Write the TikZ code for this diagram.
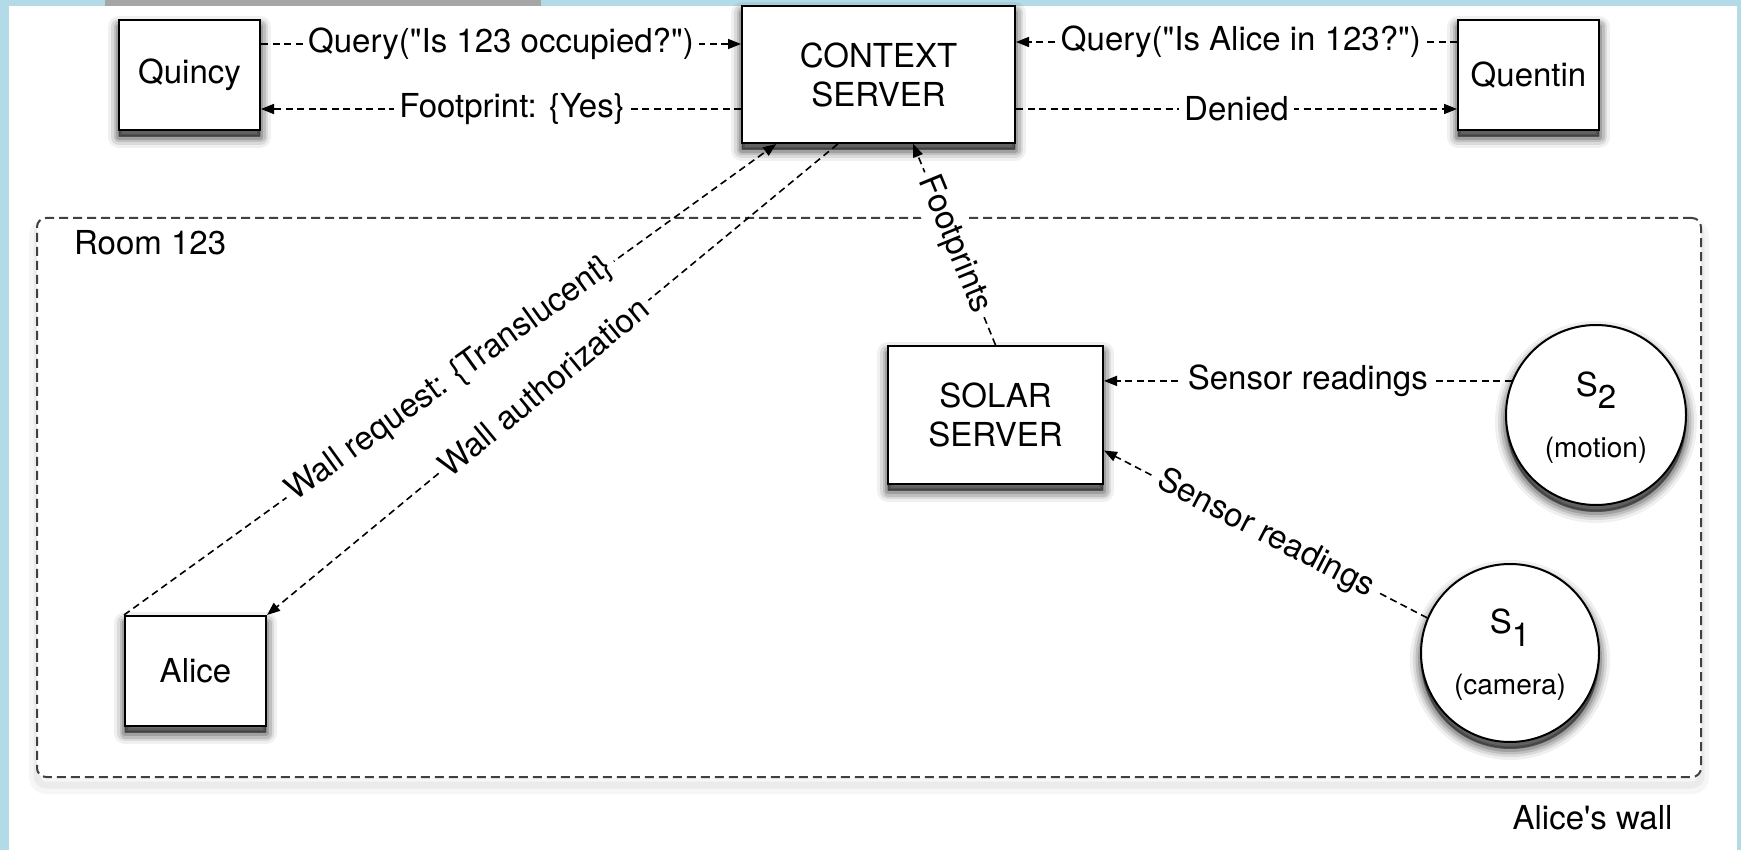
\documentclass[tikz,border=0pt]{standalone}
\usepackage{fontspec}
\setmainfont{TeX Gyre Heros}
\usetikzlibrary{arrows.meta,calc,shadows}
\definecolor{framebl}{RGB}{178,219,231}
\newcommand\mainfs{\fontsize{33}{39}\selectfont}
\newcommand\smallfs{\fontsize{28}{33}\selectfont}
\newcommand\dq{\textquotedbl}
\tikzset{
  shlayer/.style n args={3}{preaction={fill=black, draw=black, line width=#1, line join=round,
      opacity=#2, transform canvas={yshift=#3}}},
  myshadow/.style={shlayer={22pt}{0.06}{-7pt}, shlayer={16pt}{0.09}{-7pt}, shlayer={11pt}{0.12}{-7pt},
      shlayer={6pt}{0.16}{-7pt}, shlayer={2pt}{0.18}{-6pt}},
  box/.style={draw=black, line width=2pt, fill=white, align=center, font=\mainfs, myshadow},
  circ/.style={circle, draw=black, line width=2pt, fill=white, myshadow},
  roombox/.style={draw=black!75, line width=2pt, dash pattern=on 9pt off 5pt, rounded corners=9pt, fill=white,
    preaction={draw=black, solid, line width=16pt, opacity=0.035, transform canvas={yshift=-9pt}},
    preaction={draw=black, solid, line width=7pt, opacity=0.045, transform canvas={yshift=-8pt}}},
  conn/.style={draw=black, line width=1.6pt, dash pattern=on 7pt off 4.5pt, -{Triangle[length=13pt,width=10pt]}},
  lab/.style={fill=white, inner sep=5pt, font=\mainfs, text=black},
  txt/.style={inner sep=0pt, font=\mainfs},
  stxt/.style={inner sep=0pt, font=\smallfs}
}
\begin{document}
\begin{tikzpicture}[x=1pt,y=-1pt]
\useasboundingbox (0,0) rectangle (1741,850);
\fill[white] (0,0) rectangle (1741,850);
\fill[framebl] (0,0) rectangle (1741,6);
\fill[framebl] (0,0) rectangle (9,850);
\fill[framebl] (1737,0) rectangle (1741,850);
\fill[black!35] (105,0) rectangle (541,6);

% room
\node[roombox, minimum width=1664pt, minimum height=559pt] (room) at (869,497.5) {};
\node[txt, anchor=west] (roomlbl) at (74,243) {Room 123};
\node[txt] (wall) at (1592.5,818) {Alice\textquotesingle s wall};

% nodes
\node[box, minimum width=141pt, minimum height=110pt] (quincy) at (189.5,75) {Quincy};
\node[box, minimum width=273pt, minimum height=137pt] (context) at (878.5,74.5) {CONTEXT\\SERVER};
\node[box, minimum width=141pt, minimum height=110pt] (quentin) at (1528.5,75) {Quentin};
\node[box, minimum width=215pt, minimum height=138pt] (solar) at (995.5,415) {SOLAR\\SERVER};
\node[box, minimum width=141pt, minimum height=110pt] (alice) at (195.5,671) {Alice};
\node[circ, minimum size=180pt] (s2) at (1596,415) {};
\node[circ, minimum size=178pt] (s1) at (1510,653) {};
\node[txt, anchor=base] (s2a) at (1596,396) {S\raisebox{-13pt}{2}};
\node[stxt] (s2b) at (1596,450) {(motion)};
\node[txt, anchor=base] (s1a) at (1510,633) {S\raisebox{-13pt}{1}};
\node[stxt] (s1b) at (1510,687) {(camera)};

% connectors
\draw[conn] (quincy.east |- 0,44) -- (context.west |- 0,44)
  node[lab, midway] {Query(\dq Is 123 occupied?\dq)};
\draw[conn] (context.west |- 0,109) -- (quincy.east |- 0,109)
  node[lab, pos=0.477] {Footprint: \{Yes\}};
\draw[conn] (quentin.west |- 0,42) -- (context.east |- 0,42)
  node[lab, pos=0.49] {Query(\dq Is Alice in 123?\dq)};
\draw[conn] (context.east |- 0,109) -- (quentin.west |- 0,109)
  node[lab, midway] {Denied};
\draw[conn] (alice.north west) -- ($(context.south west)!0.128!(context.south east)$)
  node[lab, midway, sloped] {Wall request: \{Translucent\}};
\draw[conn] ($(context.south west)!0.352!(context.south east)$) -- (alice.north east)
  node[lab, pos=0.515, sloped] {Wall authorization};
\draw[conn] (solar.north) -- ($(context.south west)!0.626!(context.south east)$)
  node[lab, midway, sloped] {Footprints};
\draw[conn] (s2.158) -- (solar.east |- s2.158)
  node[lab, midway] {Sensor readings};
\draw[conn] (s1.157) -- ($(solar.north east)!0.754!(solar.south east)$)
  node[lab, midway, sloped] {Sensor readings};
\end{tikzpicture}
\end{document}
